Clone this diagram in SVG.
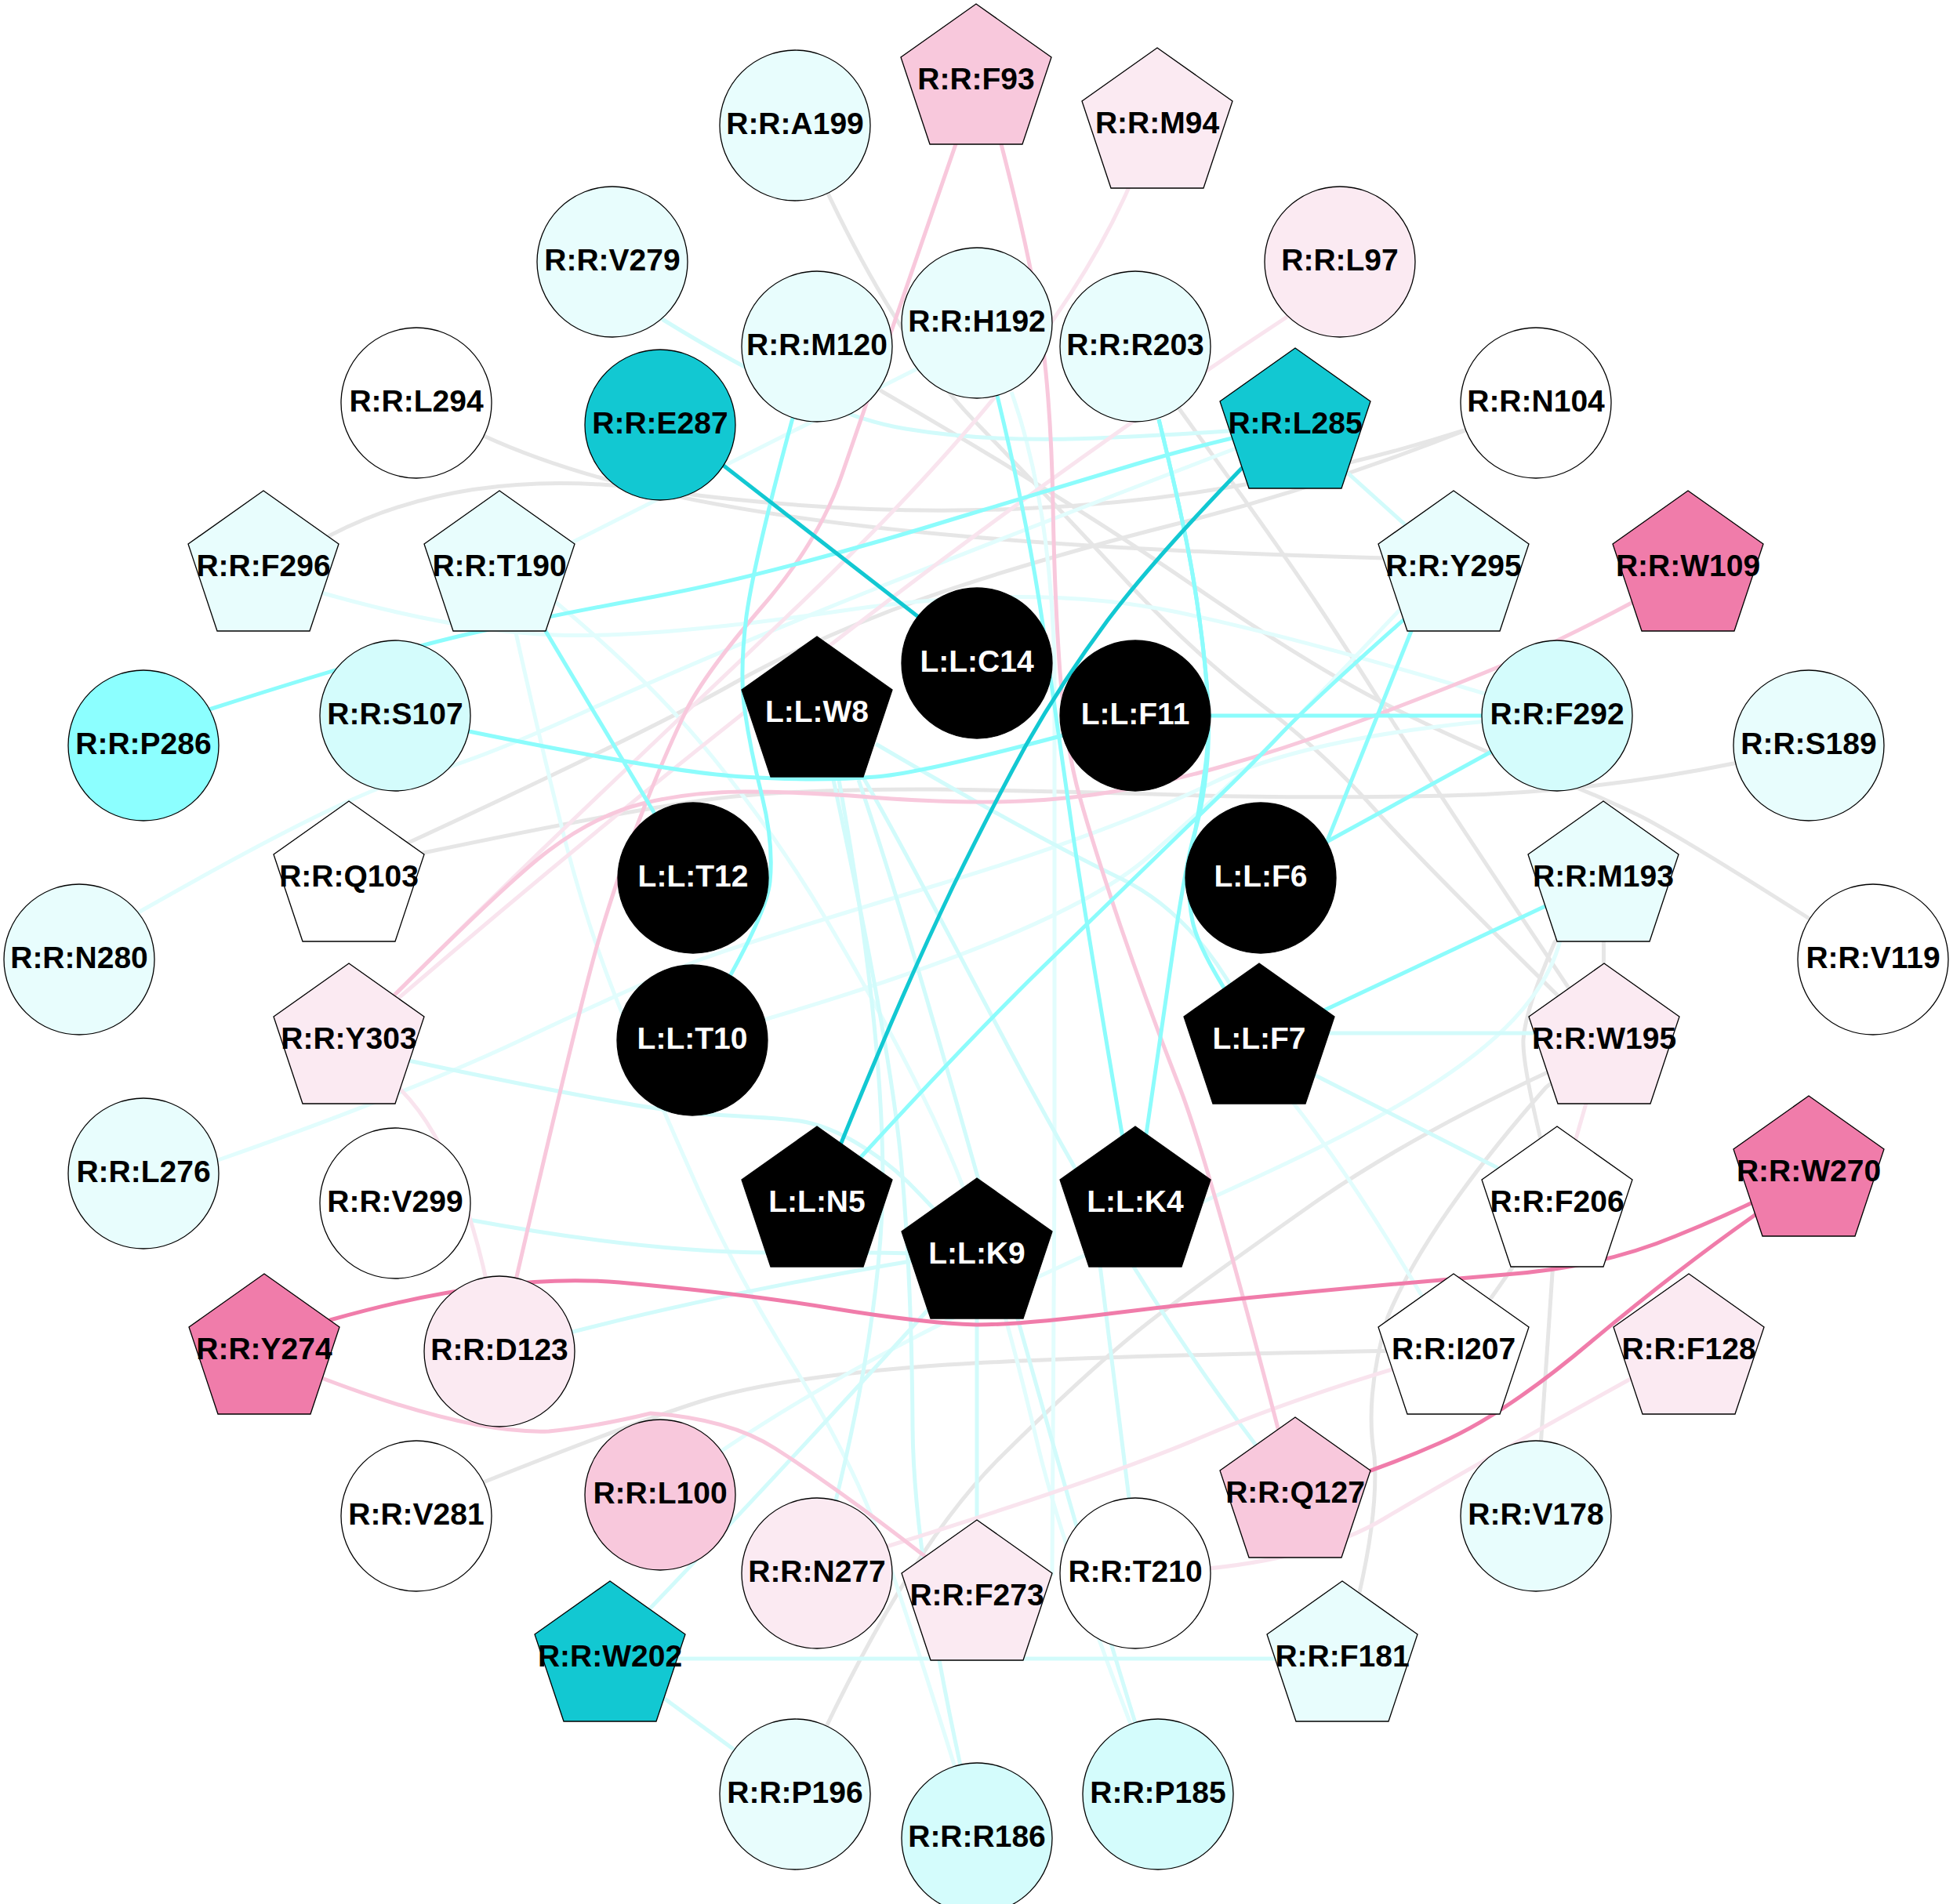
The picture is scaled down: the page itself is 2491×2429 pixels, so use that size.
<svg xmlns="http://www.w3.org/2000/svg" width="2491" height="2429" viewBox="0 0 2491 2429">
<defs>
<style>
.e{fill:none;stroke-width:5}
.teal{stroke:#12C8D2}
.cy{stroke:#8CFCFC}
.lc{stroke:#D2FBFB}
.lcc{stroke:#E2FDFD}
.gr{stroke:#E6E6E6}
.pk{stroke:#F07CAA}
.pm{stroke:#F8C8DC}
.pl{stroke:#F9E4EE}
.n{stroke:#000;stroke-width:1.3}
.f0{fill:#FFFFFF}.f1{fill:#E8FDFD}.f2{fill:#D4FCFC}.f3{fill:#8CFFFF}.f4{fill:#12C8D2}
.f5{fill:#FBEAF2}.f6{fill:#F8C8DC}.f7{fill:#F07CAA}.lig{fill:#000}
text{font-family:"Liberation Sans",Arial,sans-serif;font-weight:bold;font-size:39px;text-anchor:middle;fill:#000}
text.w{fill:#fff}
</style>
<path id="pent" d="M0,-99 L96,-31 L59,80 L-59,80 L-96,-31 Z"/>
</defs>
<rect width="2491" height="2429" fill="#fff"/>
<g id="connectors">
<!-- gray -->
<path class="e gr" d="M531,514 L617,556 C800,640 1100,695 1767,712 L1854,725"/>
<path class="e gr" d="M336,725 L421,683 Q600,590 851,627 Q1100,660 1320,648 Q1600,635 1874,547 L1959,514"/>
<path class="e gr" d="M445,1121 L521,1075 Q830,932 937,871 Q1045,811 1182,762 Q1320,714 1502,668 Q1685,622 1874,547 L1959,514"/>
<path class="e gr" d="M445,1121 L540,1088 Q830,1027 937,1016 Q1045,1006 1195,1007 Q1345,1009 1502,1014 Q1660,1019 1845,1015 Q2030,1011 2211,974 L2307,951"/>
<path class="e gr" d="M1042,442 L1126,500 Q1359,635 1522,747 Q1685,859 1789,909 Q1893,960 1961,985 Q2030,1011 2090,1040 Q2150,1070 2389,1224"/>
<path class="e gr" d="M1014,160 L1058,251 Q1148,439 1243,537 Q1338,635 1428,732 Q1518,830 1601,893 Q1685,956 1752,1031 Q1819,1106 2046,1328"/>
<path class="e gr" d="M1448,442 L1508,527 Q1636,704 1679,769 Q1723,835 1776,920 Q1830,1005 2046,1328"/>
<path class="e gr" d="M2045,1121 L2046,1328"/>
<path class="e gr" d="M2046,1328 L1978,1366 Q1800,1449 1677,1534 Q1555,1620 1478,1677 Q1401,1735 1275,1860 Q1149,1985 1014,2289"/>
<path class="e gr" d="M2046,1328 L1972,1387 Q1820,1560 1770,1680 Q1740,1780 1753,1858 Q1760,1950 1712,2116"/>
<path class="e gr" d="M2045,1121 L1983,1202 Q1946,1286 1943,1326 Q1941,1366 1986,1536"/>
<path class="e gr" d="M1986,1536 L1959,1934"/>
<path class="e gr" d="M1986,1536 L1854,1724"/>
<path class="e gr" d="M531,1934 L619,1890 Q805,1816 893,1788 Q981,1760 1156,1745 Q1331,1730 1854,1722"/>
<!-- lightest cyan -->
<path class="e lcc" d="M1290,500 Q1340,640 1345,850 L1345,1500 L1342,2010"/>
<path class="e lcc" d="M637,725 L655,794 Q691,956 722,1077 Q754,1199 797,1301 Q840,1403 888,1511 Q936,1620 1010,1739 Q1084,1858 1121,1958 Q1158,2059 1246,2345"/>
<path class="e lcc" d="M705,765 Q830,868 909,966 Q989,1064 1055,1175 Q1121,1286 1174,1392 Q1227,1498 1258,1599 Q1290,1700 1324,1845 Q1359,1991 1477,2289"/>
<path class="e lcc" d="M1606,1328 L1640,1395 Q1740,1520 1854,1724"/>
<path class="e lcc" d="M2045,1121 L1990,1200 C1920,1460 1300,1560 842,1907"/>
<path class="e lcc" d="M1854,725 L1791,772 Q1685,884 1636,934 Q1588,985 1466,1092 Q1345,1199 883,1327"/>
<path class="e lcc" d="M183,1497 L278,1480 Q529,1392 679,1320 Q830,1249 891,1225 Q952,1202 1182,1133 Q1412,1064 1548,998 Q1685,932 1986,913"/>
<path class="e lcc" d="M101,1224 L180,1162 Q445,1011 522,993 Q600,975 759,902 Q919,830 1119,750 Q1320,670 1652,543"/>
<path class="e lcc" d="M690,712 L1246,432"/>
<path class="e lcc" d="M336,725 L413,757 Q582,805 706,810 Q830,815 1075,779 Q1320,743 1502,781 Q1685,820 1986,913"/>
<!-- light cyan -->
<path class="e lc" d="M781,334 L846,408 Q1042,529 1155,547 Q1269,566 1420,558 Q1571,551 1652,543"/>
<path class="e lc" d="M1652,543 L1854,725"/>
<path class="e lc" d="M1606,1318 L2046,1318"/>
<path class="e lc" d="M778,2116 L1712,2116"/>
<path class="e lc" d="M778,2116 L1014,2289"/>
<path class="e lc" d="M445,1328 L521,1353 Q830,1419 909,1422 Q989,1426 1020,1430 Q1052,1435 1089,1456 Q1126,1477 1158,1508 Q1190,1540 1246,1602"/>
<path class="e lc" d="M504,1535 L598,1556 Q830,1599 990,1598 Q1149,1597 1246,1602"/>
<path class="e lc" d="M637,1724 Q900,1650 1246,1595"/>
<path class="e lc" d="M778,2116 L830,2051 Q1015,1858 1246,1602"/>
<path class="e lc" d="M1246,1602 L1246,2038"/>
<path class="e lc" d="M1676,1371 L1940,1505"/>
<path class="e lc" d="M1063,995 Q1137,1339 1150,1489 Q1163,1640 1164,1820 Q1165,2000 1246,2345"/>
<path class="e lc" d="M1070,995 Q1125,1300 1126,1500 Q1126,1700 1042,2007"/>
<path class="e lc" d="M1095,995 C1200,1300 1350,1900 1477,2289"/>
<path class="e lc" d="M1100,990 C1250,1250 1400,1600 1652,1907"/>
<path class="e lc" d="M1117,949 Q1320,1068 1430,1121 Q1539,1174 1606,1328"/>
<path class="e lc" d="M1400,1590 L1440,1911"/>
<!-- light pink -->
<path class="e pl" d="M1709,334 L1645,402 Q1100,760 445,1328"/>
<path class="e pl" d="M1476,160 L1439,241 C1360,420 1200,600 1000,790 C800,980 650,1120 445,1328"/>
<path class="e pl" d="M445,1328 L511,1390 Q600,1480 637,1724"/>
<path class="e pl" d="M1042,2007 L1134,1972 Q1412,1885 1536,1832 Q1660,1779 1854,1724"/>
<path class="e pl" d="M2154,1724 L2078,1760 Q1872,1874 1766,1937 Q1660,2001 1448,2007"/>
<path class="e pl" d="M2046,1328 L1986,1536"/>
<!-- medium pink -->
<path class="e pm" d="M1245,104 L1219,184 Q1103,520 1074,605 Q1045,690 972,774 Q899,859 875,907 Q851,956 822,1029 Q793,1102 766,1191 Q739,1280 637,1724"/>
<path class="e pm" d="M1245,104 L1277,184 Q1320,350 1330,439 Q1341,529 1343,644 Q1345,760 1352,858 Q1360,956 1377,1016 Q1394,1077 1429,1181 Q1465,1286 1503,1383 Q1542,1480 1652,1907"/>
<path class="e pm" d="M2153,725 L2083,768 Q1967,830 1874,866 Q1782,903 1709,929 Q1636,956 1558,978 Q1481,1000 1413,1011 Q1345,1022 1272,1023 Q1200,1024 1110,1017 Q1020,1010 950,1010 Q880,1010 820,1025 Q760,1040 700,1085 Q640,1130 445,1328"/>
<path class="e pm" d="M337,1724 L413,1759 Q600,1830 700,1826 Q760,1820 830,1803 Q930,1810 989,1848 Q1095,1916 1246,2038"/>
<!-- strong pink -->
<path class="e pk" d="M337,1724 L421,1684 Q635,1623 790,1636 Q945,1650 1061,1669 Q1177,1688 1246,1690 Q1303,1690 1422,1675 Q1542,1660 1671,1648 Q1800,1636 1920,1626 Q2041,1617 2137,1577 Q2234,1538 2307,1497"/>
<path class="e pk" d="M2307,1497 L2237,1551 Q2139,1620 2029,1712 Q1919,1805 1836,1841 Q1753,1878 1652,1907"/>
<!-- cyan -->
<path class="e cy" d="M183,951 Q230,925 267,905 Q500,830 610,806 Q720,782 814,765 Q909,748 1018,719 Q1127,690 1223,660 Q1320,631 1449,592 Q1578,554 1652,543"/>
<path class="e cy" d="M504,913 L598,933 Q851,985 948,991 Q1045,997 1117,991 Q1190,985 1448,913"/>
<path class="e cy" d="M675,770 L884,1120"/>
<path class="e cy" d="M1042,442 L1010,537 Q962,714 952,786 Q943,859 950,907 Q957,956 972,1016 Q987,1077 982,1125 Q977,1174 883,1327"/>
<path class="e cy" d="M1272,505 Q1311,665 1331,803 Q1351,942 1368,1061 Q1386,1181 1430,1440 L1448,1536"/>
<path class="e cy" d="M1478,535 Q1510,665 1522,738 Q1534,811 1539,871 Q1544,932 1539,980 Q1534,1029 1523,1065 Q1513,1101 1499,1193 Q1486,1286 1463,1440 L1448,1536"/>
<path class="e cy" d="M1478,535 Q1510,665 1522,738 Q1534,811 1539,871 Q1544,932 1537,981 Q1530,1030 1521,1080 Q1512,1130 1521,1175 Q1530,1220 1606,1328"/>
<path class="e cy" d="M1854,725 L1791,790 Q1685,884 1636,934 Q1588,985 1513,1056 Q1439,1128 1341,1223 Q1243,1318 1100,1474 L1042,1536"/>
<path class="e cy" d="M1810,780 L1692,1075"/>
<path class="e cy" d="M1986,913 L1608,1120"/>
<path class="e cy" d="M1448,913 L1986,913"/>
<path class="e cy" d="M2045,1121 L1606,1328"/>
<!-- teal -->
<path class="e teal" d="M842,531 L1246,845"/>
<path class="e teal" d="M1588,593 Q1471,714 1413,791 Q1355,869 1309,950 Q1264,1032 1216,1130 Q1169,1228 1121,1342 Q1073,1456 1042,1536"/>
</g>
<g id="nodes">
<g id="R_A199"><circle class="n f1" cx="1014" cy="160" r="96"/><text x="1014" y="171">R:R:A199</text></g>
<g id="R_V279"><circle class="n f1" cx="781" cy="334" r="96"/><text x="781" y="345">R:R:V279</text></g>
<g id="R_L97"><circle class="n f5" cx="1709" cy="334" r="96"/><text x="1709" y="345">R:R:L97</text></g>
<g id="R_M120"><circle class="n f1" cx="1042" cy="442" r="96"/><text x="1042" y="453">R:R:M120</text></g>
<g id="R_H192"><circle class="n f1" cx="1246" cy="412" r="96"/><text x="1246" y="423">R:R:H192</text></g>
<g id="R_R203"><circle class="n f1" cx="1448" cy="442" r="96"/><text x="1448" y="453">R:R:R203</text></g>
<g id="R_L294"><circle class="n f0" cx="531" cy="514" r="96"/><text x="531" y="525">R:R:L294</text></g>
<g id="R_E287"><circle class="n f4" cx="842" cy="542" r="96"/><text x="842" y="553">R:R:E287</text></g>
<g id="R_N104"><circle class="n f0" cx="1959" cy="514" r="96"/><text x="1959" y="525">R:R:N104</text></g>
<g id="L_C14"><circle class="n lig" cx="1246" cy="846" r="96"/><text class="w" x="1246" y="857">L:L:C14</text></g>
<g id="L_F11"><circle class="n lig" cx="1448" cy="913" r="96"/><text class="w" x="1448" y="924">L:L:F11</text></g>
<g id="R_P286"><circle class="n f3" cx="183" cy="951" r="96"/><text x="183" y="962">R:R:P286</text></g>
<g id="R_S107"><circle class="n f2" cx="504" cy="913" r="96"/><text x="504" y="924">R:R:S107</text></g>
<g id="R_F292"><circle class="n f2" cx="1986" cy="913" r="96"/><text x="1986" y="924">R:R:F292</text></g>
<g id="R_S189"><circle class="n f1" cx="2307" cy="951" r="96"/><text x="2307" y="962">R:R:S189</text></g>
<g id="L_T12"><circle class="n lig" cx="884" cy="1120" r="96"/><text class="w" x="884" y="1131">L:L:T12</text></g>
<g id="L_F6"><circle class="n lig" cx="1608" cy="1120" r="96"/><text class="w" x="1608" y="1131">L:L:F6</text></g>
<g id="R_N280"><circle class="n f1" cx="101" cy="1224" r="96"/><text x="101" y="1235">R:R:N280</text></g>
<g id="R_V119"><circle class="n f0" cx="2389" cy="1224" r="96"/><text x="2389" y="1235">R:R:V119</text></g>
<g id="L_T10"><circle class="n lig" cx="883" cy="1327" r="96"/><text class="w" x="883" y="1338">L:L:T10</text></g>
<g id="R_L276"><circle class="n f1" cx="183" cy="1497" r="96"/><text x="183" y="1508">R:R:L276</text></g>
<g id="R_V299"><circle class="n f0" cx="504" cy="1535" r="96"/><text x="504" y="1546">R:R:V299</text></g>
<g id="R_D123"><circle class="n f5" cx="637" cy="1724" r="96"/><text x="637" y="1735">R:R:D123</text></g>
<g id="R_V281"><circle class="n f0" cx="531" cy="1934" r="96"/><text x="531" y="1945">R:R:V281</text></g>
<g id="R_L100"><circle class="n f6" cx="842" cy="1907" r="96"/><text x="842" y="1918">R:R:L100</text></g>
<g id="R_V178"><circle class="n f1" cx="1959" cy="1934" r="96"/><text x="1959" y="1945">R:R:V178</text></g>
<g id="R_N277"><circle class="n f5" cx="1042" cy="2007" r="96"/><text x="1042" y="2018">R:R:N277</text></g>
<g id="R_T210"><circle class="n f0" cx="1448" cy="2007" r="96"/><text x="1448" y="2018">R:R:T210</text></g>
<g id="R_P196"><circle class="n f1" cx="1014" cy="2289" r="96"/><text x="1014" y="2300">R:R:P196</text></g>
<g id="R_R186"><circle class="n f2" cx="1246" cy="2345" r="96"/><text x="1246" y="2356">R:R:R186</text></g>
<g id="R_P185"><circle class="n f2" cx="1477" cy="2289" r="96"/><text x="1477" y="2300">R:R:P185</text></g>
<g id="R_F93"><use href="#pent" class="n f6" x="1245" y="104"/><text x="1245" y="114">R:R:F93</text></g>
<g id="R_M94"><use href="#pent" class="n f5" x="1476" y="160"/><text x="1476" y="170">R:R:M94</text></g>
<g id="R_L285"><use href="#pent" class="n f4" x="1652" y="543"/><text x="1652" y="553">R:R:L285</text></g>
<g id="R_F296"><use href="#pent" class="n f1" x="336" y="725"/><text x="336" y="735">R:R:F296</text></g>
<g id="R_T190"><use href="#pent" class="n f1" x="637" y="725"/><text x="637" y="735">R:R:T190</text></g>
<g id="R_Y295"><use href="#pent" class="n f1" x="1854" y="725"/><text x="1854" y="735">R:R:Y295</text></g>
<g id="R_W109"><use href="#pent" class="n f7" x="2153" y="725"/><text x="2153" y="735">R:R:W109</text></g>
<g id="L_W8"><use href="#pent" class="n lig" x="1042" y="911"/><text class="w" x="1042" y="921">L:L:W8</text></g>
<g id="R_Q103"><use href="#pent" class="n f0" x="445" y="1121"/><text x="445" y="1131">R:R:Q103</text></g>
<g id="R_M193"><use href="#pent" class="n f1" x="2045" y="1121"/><text x="2045" y="1131">R:R:M193</text></g>
<g id="R_Y303"><use href="#pent" class="n f5" x="445" y="1328"/><text x="445" y="1338">R:R:Y303</text></g>
<g id="L_F7"><use href="#pent" class="n lig" x="1606" y="1328"/><text class="w" x="1606" y="1338">L:L:F7</text></g>
<g id="R_W195"><use href="#pent" class="n f5" x="2046" y="1328"/><text x="2046" y="1338">R:R:W195</text></g>
<g id="L_N5"><use href="#pent" class="n lig" x="1042" y="1536"/><text class="w" x="1042" y="1546">L:L:N5</text></g>
<g id="L_K4"><use href="#pent" class="n lig" x="1448" y="1536"/><text class="w" x="1448" y="1546">L:L:K4</text></g>
<g id="L_K9"><use href="#pent" class="n lig" x="1246" y="1602"/><text class="w" x="1246" y="1612">L:L:K9</text></g>
<g id="R_F206"><use href="#pent" class="n f0" x="1986" y="1536"/><text x="1986" y="1546">R:R:F206</text></g>
<g id="R_W270"><use href="#pent" class="n f7" x="2307" y="1497"/><text x="2307" y="1507">R:R:W270</text></g>
<g id="R_Y274"><use href="#pent" class="n f7" x="337" y="1724"/><text x="337" y="1734">R:R:Y274</text></g>
<g id="R_I207"><use href="#pent" class="n f0" x="1854" y="1724"/><text x="1854" y="1734">R:R:I207</text></g>
<g id="R_F128"><use href="#pent" class="n f5" x="2154" y="1724"/><text x="2154" y="1734">R:R:F128</text></g>
<g id="R_Q127"><use href="#pent" class="n f6" x="1652" y="1907"/><text x="1652" y="1917">R:R:Q127</text></g>
<g id="R_F273"><use href="#pent" class="n f5" x="1246" y="2038"/><text x="1246" y="2048">R:R:F273</text></g>
<g id="R_W202"><use href="#pent" class="n f4" x="778" y="2116"/><text x="778" y="2126">R:R:W202</text></g>
<g id="R_F181"><use href="#pent" class="n f1" x="1712" y="2116"/><text x="1712" y="2126">R:R:F181</text></g>
</g>
</svg>
